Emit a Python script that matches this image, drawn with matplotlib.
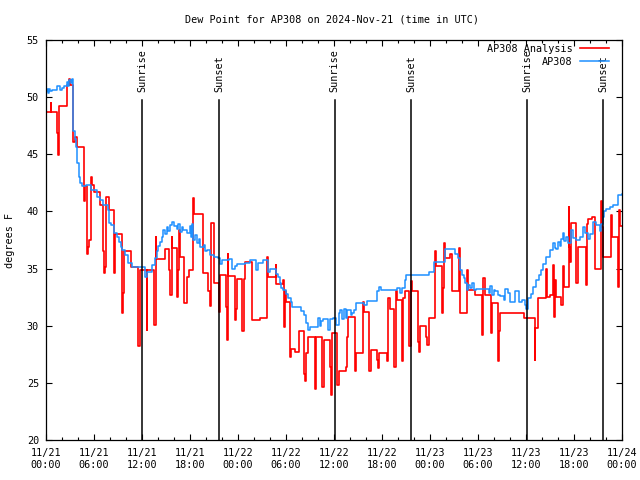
import matplotlib
matplotlib.use("Agg")
import matplotlib.pyplot as plt

# hours since 2024-11-21 00:00 UTC, dew point in F
blue_hours = [0.0, 0.15, 0.25, 0.35, 0.5, 0.7, 1.42, 1.75, 2.04, 2.25, 2.6, 2.75, 2.9, 3.1, 3.25,
              3.42, 3.6, 3.8, 3.92, 4.1, 4.3, 4.55, 5.0, 5.6, 6.4, 6.8, 7.1, 7.7, 7.9, 8.1, 8.5,
              8.9, 9.15, 9.4, 9.55, 9.9, 10.2, 10.8,
              12.4, 12.6, 13.2, 13.64, 13.85, 14.06, 14.26, 14.47, 14.68, 14.9, 15.1, 15.3, 15.5,
              15.72, 16.0, 16.35, 16.55, 16.77, 17.0, 17.18, 17.6, 18.02, 18.1, 18.23, 18.43,
              18.64, 18.85, 19.1, 19.27, 19.69, 19.9, 20.1, 20.52, 20.94, 21.56, 21.7, 21.98,
              22.82, 23.23, 23.65,
              23.9, 24.82, 25.45, 26.28, 26.49, 27.12, 27.74, 27.95, 28.79, 29.0, 29.2, 29.4,
              29.62, 30.04, 30.3, 30.66, 30.8, 31.9, 32.2, 32.54, 32.75, 32.96, 34.0, 34.21,
              34.4, 34.63, 35.25, 35.46, 35.88,
              36.21, 36.63, 36.8, 37.04, 37.3, 37.5, 37.67, 38.09, 38.3, 38.5, 38.71, 39.75,
              40.17, 41.42, 41.6, 41.84, 43.93, 44.2, 44.55, 44.89, 45.05, 47.89,
              48.44, 49.9, 51.15, 51.56, 51.77, 52.0, 52.19, 52.4, 52.61, 52.8, 53.02, 53.2,
              53.44, 53.7, 54.07, 55.32, 55.5, 55.74, 56.0, 56.15, 56.5, 56.78, 57.2, 57.41,
              57.7, 58.03, 58.66, 59.16, 59.49, 59.91,
              60.0, 60.24, 60.57, 60.86, 61.28, 61.57, 61.91, 62.11, 62.53, 62.95, 63.37, 63.6,
              63.78, 64.0, 64.2, 64.4, 64.62, 64.8, 65.03, 65.3, 65.66, 65.9, 66.29, 66.7,
              67.12, 67.4, 67.75, 68.0, 68.37, 68.79, 69.21, 69.4, 69.62, 69.8, 70.04, 70.46,
              70.88, 71.5, 72.0]
blue_vals = [50.5, 50.7, 50.4, 50.7, 50.5, 50.6, 51.0, 50.6, 50.8, 51.0, 51.3, 51.0, 51.5, 51.2, 51.6,
             47.0, 46.3, 45.6, 44.2, 43.0, 42.5, 42.2, 42.3, 41.9, 41.3, 41.0, 40.6, 40.1, 39.0, 38.8, 38.1,
             37.8, 37.3, 36.9, 36.6, 36.2, 35.5, 35.1,
             34.3, 34.7, 35.3, 35.9, 36.5, 37.0, 37.3, 37.8, 38.4, 38.0, 38.6, 38.3, 38.8,
             39.1, 38.7, 38.5, 38.9, 38.2, 38.6, 38.4, 38.1, 38.7, 37.8, 38.9, 37.5,
             37.9, 37.2, 37.6, 36.9, 37.1, 36.5, 36.6, 36.2, 36.0, 35.9, 35.4, 35.75,
             35.8, 35.0, 35.2,
             35.4, 35.5, 35.75, 34.9, 35.5, 35.75, 34.7, 35.0, 34.5, 34.3, 33.7, 33.3,
             33.1, 32.8, 32.4, 32.1, 31.6, 31.3, 30.9, 30.2, 29.6, 29.9, 30.7, 30.0,
             30.4, 30.6, 29.6, 30.6, 30.7,
             30.1, 31.1, 31.4, 30.6, 31.5, 30.7, 31.4, 30.9, 31.1, 31.4, 32.0, 31.8,
             32.2, 33.0, 33.4, 33.1, 33.3, 32.9, 33.3, 34.0, 34.4, 34.7,
             35.6, 36.7, 36.3, 35.9, 34.9, 34.4, 34.2, 33.7, 33.1, 33.6, 33.3, 33.7,
             33.1, 33.2, 33.2, 32.9, 33.5, 32.7, 33.1, 33.0, 32.7, 32.6, 32.25, 33.2,
             32.9, 32.1, 33.0, 32.1, 32.25, 31.8,
             31.5, 32.4, 32.8, 33.4, 34.0, 34.4, 34.9, 35.4, 36.0, 36.6, 37.2, 36.8,
             36.7, 37.3, 37.0, 37.6, 38.1, 37.4, 37.8, 37.2, 38.4, 37.7, 37.5, 37.8,
             38.6, 38.1, 37.6, 38.0, 39.1, 38.8, 38.3, 38.9, 39.5, 40.0, 40.2, 40.4,
             40.6, 41.45, 41.5]

red_hours = [0.0, 0.58, 0.65, 1.42, 1.5, 1.6, 2.67, 2.85, 2.95, 3.42, 3.6, 3.92, 4.75, 4.82, 5.09,
             5.17, 5.25, 5.38, 5.67, 5.75, 6.0, 6.76, 7.18, 7.26, 7.4, 7.51, 7.88, 8.51, 8.65,
             9.55, 9.65, 9.76, 10.68, 11.56, 11.72,
             12.6, 12.68, 13.51, 13.72, 13.76, 14.89, 15.43, 15.51, 15.72, 15.8, 16.43, 16.55,
             16.68, 16.77, 17.31, 17.6, 17.93, 18.35, 18.52, 19.6, 20.31, 20.44, 20.6, 20.94,
             21.65, 21.77, 22.48, 22.57, 22.69, 22.75, 23.57, 23.73, 23.86,
             23.99, 24.53, 24.7, 24.82, 25.78, 26.7, 27.62, 27.74, 28.7, 28.79, 29.62, 29.75,
             29.83, 30.04, 30.54, 30.66, 31.08, 31.62, 32.2, 32.33, 32.54, 32.75, 33.58, 33.79,
             34.5, 34.71, 35.46, 35.67, 35.8,
             36.42, 36.62, 37.46, 37.67, 37.79, 38.63, 38.79, 39.63, 39.75, 40.38, 40.59, 41.42,
             41.55, 41.63, 42.67, 42.76, 42.97, 43.51, 43.72, 43.93, 44.55, 44.63, 44.89, 45.39,
             45.68, 45.8, 46.51, 46.62, 46.72, 47.47, 47.6, 47.89,
             48.02, 48.64, 48.73, 49.48, 49.6, 49.81, 49.9, 50.52, 50.73, 51.65, 51.77, 52.61,
             52.73, 53.65, 54.49, 54.61, 54.9, 55.65, 55.74, 56.49, 56.65, 56.78, 59.7,
             59.82, 61.07, 61.15, 61.49, 62.53, 62.6, 62.66, 63.0, 63.37, 63.45, 63.57, 63.7,
             64.41, 64.62, 64.7, 65.33, 65.4, 65.5, 65.58, 66.29, 66.45, 67.54, 67.65, 67.75,
             68.29, 68.58, 69.42, 69.5, 69.62, 70.58, 70.75, 71.5, 71.6, 71.71, 72.0]
red_vals = [48.7, 49.5, 48.7, 46.9, 44.9, 49.2, 51.1, 51.6, 51.1, 46.1, 46.5, 45.6, 40.9, 42.2, 39.6,
            36.3, 36.9, 37.5, 43.0, 42.3, 41.7, 40.6, 36.5, 34.6, 35.1, 41.3, 40.1, 34.6, 38.0,
            31.1, 32.9, 36.5, 35.1, 28.2, 34.9,
            29.6, 34.9, 30.1, 37.8, 35.8, 36.7, 34.9, 32.7, 37.8, 36.8, 32.5, 34.9,
            38.4, 36.0, 32.0, 34.3, 34.9, 41.15, 39.8, 34.6, 33.0, 31.7, 39.0, 33.7,
            31.2, 34.4, 31.6, 28.75, 36.3, 34.35, 30.5, 31.5, 34.1,
            34.1, 29.5, 34.1, 35.6, 30.5, 30.7, 36.0, 34.3, 35.3, 33.65, 34.0, 29.9,
            33.0, 32.1, 27.3, 28.0, 27.7, 29.5, 25.8, 25.2, 27.6, 29.0, 24.5, 29.0,
            24.6, 28.75, 26.4, 23.9, 29.4,
            24.8, 26.0, 26.4, 29.0, 30.8, 26.0, 27.6, 32.1, 31.2, 26.0, 27.9, 27.0,
            26.3, 27.65, 26.9, 32.4, 31.5, 26.4, 33.0, 32.25, 26.9, 32.4, 33.0, 28.2,
            33.9, 33.0, 28.6, 27.7, 30.0, 29.0, 28.3, 30.7,
            30.7, 36.5, 35.2, 31.1, 33.3, 37.2, 35.9, 36.3, 33.0, 36.8, 31.1, 34.9,
            33.1, 32.7, 29.2, 34.15, 32.7, 29.4, 32.0, 26.9, 29.5, 31.1, 30.7,
            30.65, 27.0, 29.8, 32.4, 35.0, 32.7, 32.5, 32.7, 35.3, 30.8, 34.0, 32.5,
            31.8, 35.2, 33.4, 40.4, 36.9, 35.6, 39.0, 33.7, 36.9, 33.6, 38.9, 39.3,
            39.5, 35.0, 40.9, 38.6, 36.0, 39.7, 37.75, 33.4, 40.1, 38.7, 38.7]

sunrise_hours = [12.05, 36.1, 60.15]
sunset_hours = [21.68, 45.65, 69.65]

tick_hours = list(range(0, 73, 6))
tick_labels = ["11/21\n00:00", "11/21\n06:00", "11/21\n12:00", "11/21\n18:00",
               "11/22\n00:00", "11/22\n06:00", "11/22\n12:00", "11/22\n18:00",
               "11/23\n00:00", "11/23\n06:00", "11/23\n12:00", "11/23\n18:00",
               "11/24\n00:00"]

FS = 7.3
plt.rcParams['font.family'] = ['DejaVu Sans Mono']

fig = plt.figure(figsize=(6.4, 4.8), dpi=100)
ax = fig.add_axes([46 / 640, 40 / 480, 576 / 640, 400 / 480])

ax.plot(red_hours, red_vals, drawstyle='steps-post', color='#ff0000', lw=1.2,
        label='AP308 Analysis')
ax.plot(blue_hours, blue_vals, drawstyle='steps-post', color='#1e90ff', lw=1.1,
        label='AP308')

for h in sunrise_hours:
    ax.plot([h, h], [20, 49.75], color='black', lw=1.1)
    ax.text(h, 50.45, 'Sunrise', rotation=90, ha='center', va='bottom', fontsize=FS)
for h in sunset_hours:
    ax.plot([h, h], [20, 49.75], color='black', lw=1.1)
    ax.text(h, 50.45, 'Sunset', rotation=90, ha='center', va='bottom', fontsize=FS)

ax.set_xlim(0, 72)
ax.set_ylim(20, 55)
ax.set_xticks(tick_hours)
ax.set_xticklabels(tick_labels)
ax.set_xticks(range(0, 73, 2), minor=True)
ax.set_yticks(range(20, 56, 5))
ax.tick_params(which='both', direction='in', top=True, right=True, labelsize=FS, color='black')
ax.tick_params(which='major', length=4.5, width=0.8)
ax.tick_params(which='minor', length=2.3, width=0.8)
ax.tick_params(axis='x', pad=6)
ax.tick_params(axis='y', pad=5)
for s in ax.spines.values():
    s.set_linewidth(0.9)

leg = ax.legend(loc='upper right', bbox_to_anchor=(1 - 12 / 576, 1 - 3 / 400),
                markerfirst=False, frameon=False, fontsize=FS,
                handlelength=2.9, handletextpad=0.7, labelspacing=0.25,
                borderaxespad=0.0, borderpad=0.1)
leg.set_zorder(5)

fig.text(332 / 640, 1 - 20 / 480, 'Dew Point for AP308 on 2024-Nov-21 (time in UTC)',
         ha='center', va='center', fontsize=FS)
fig.text(10 / 640, 0.5, 'degrees F', rotation=90, ha='center', va='center', fontsize=FS)

fig.savefig('out.png', dpi=100)
